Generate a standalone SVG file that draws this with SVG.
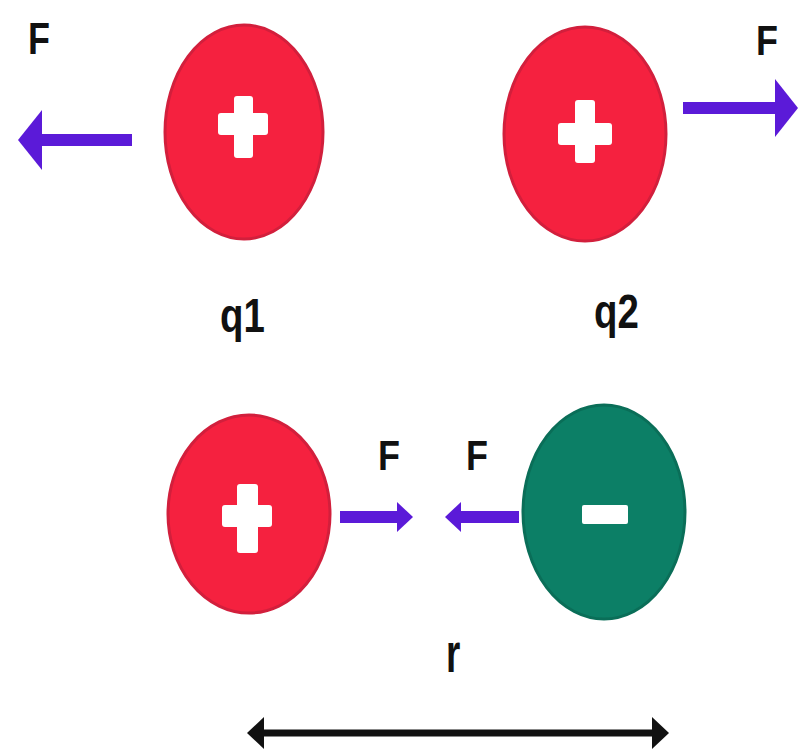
<svg xmlns="http://www.w3.org/2000/svg" width="803" height="750" viewBox="0 0 803 750">
<style>
.pos{fill:#f5213f;stroke:#d21f3c;stroke-width:3}
.neg{fill:#0c7f66;stroke:#0a6e58;stroke-width:3}
.sign{fill:#ffffff}
.lbl{font-family:"Liberation Sans",Arial,sans-serif;font-weight:bold;fill:#111111}
.farr{stroke:#5b1ad8;stroke-width:12;fill:none}
.head{fill:#5b1ad8}
</style>
<rect width="803" height="750" fill="#ffffff"/>
<g id="q1-top">
<ellipse class="pos" cx="244" cy="132" rx="79" ry="107"/>
<rect class="sign" x="234" y="96" width="19" height="62" rx="3"/>
<rect class="sign" x="218" y="113" width="50" height="22" rx="3"/>
</g>
<g id="q2-top">
<ellipse class="pos" cx="585" cy="134" rx="81" ry="107"/>
<rect class="sign" x="575" y="100" width="20" height="63" rx="3"/>
<rect class="sign" x="558" y="123" width="54" height="22" rx="3"/>
</g>
<g id="q1-bottom">
<ellipse class="pos" cx="249" cy="514" rx="81" ry="99"/>
<rect class="sign" x="237" y="484" width="21" height="69" rx="3"/>
<rect class="sign" x="222" y="505" width="50" height="22" rx="3"/>
</g>
<g id="q-neg">
<ellipse class="neg" cx="604" cy="512" rx="81" ry="107"/>
<rect class="sign" x="582" y="505" width="46" height="19" rx="2"/>
</g>
<g id="connectors">
<line class="farr" x1="132" y1="140" x2="38" y2="140"/>
<polygon class="head" points="18,140 42,110 42,170"/>
<line class="farr" x1="683" y1="108" x2="780" y2="108"/>
<polygon class="head" points="798,108 775,79 775,137"/>
<line class="farr" x1="340" y1="517" x2="400" y2="517" stroke-width="10"/>
<polygon class="head" points="413,517 397,502 397,532"/>
<line class="farr" x1="519" y1="517" x2="458" y2="517" stroke-width="10"/>
<polygon class="head" points="445,517 461,502 461,532"/>
<line x1="258" y1="733" x2="657" y2="733" stroke="#111111" stroke-width="7"/>
<polygon points="247,733 264,717 264,749" fill="#111111"/>
<polygon points="669,733 652,717 652,749" fill="#111111"/>
</g>
<g id="labels">
<text class="lbl" font-size="58" transform="translate(28,54) scale(0.62,0.75)">F</text>
<text class="lbl" font-size="58" transform="translate(756,55) scale(0.62,0.72)">F</text>
<text class="lbl" font-size="58" transform="translate(378,470) scale(0.62,0.72)">F</text>
<text class="lbl" font-size="58" transform="translate(466,470) scale(0.62,0.72)">F</text>
<text class="lbl" font-size="48" transform="translate(220,332) scale(0.8,1)">q1</text>
<text class="lbl" font-size="48" transform="translate(594,328) scale(0.8,1)">q2</text>
<text class="lbl" font-size="46" transform="translate(446,672) scale(0.8,1.2)">r</text>
</g>
</svg>
